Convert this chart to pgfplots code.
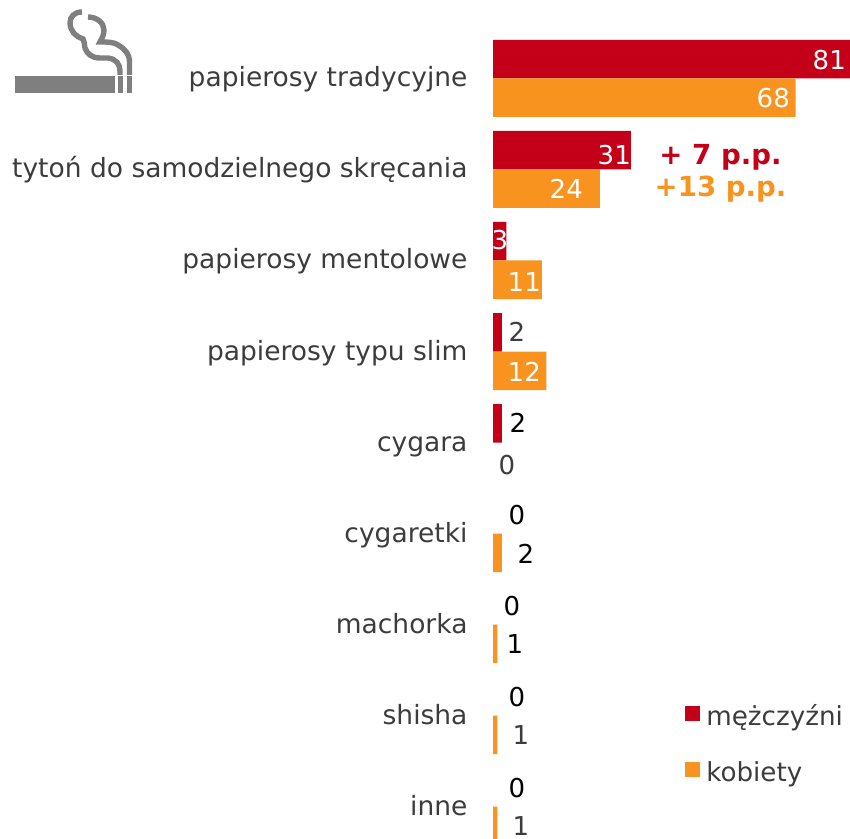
\documentclass[border=0pt]{standalone}
\usepackage{pgfplots}
\pgfplotsset{compat=1.18}
\usepackage{fontspec}
\setmainfont{DejaVu Sans}
\definecolor{cred}{HTML}{C40018}
\definecolor{corange}{HTML}{F7931E}
\definecolor{ctxt}{HTML}{3C3C3C}
\definecolor{cicon}{HTML}{7F7F7F}
\newcommand{\lab}[4][white]{\node[text=#1,font=\fontsize{26}{26}\selectfont,inner sep=0pt,anchor=center] at (#2pt,838pt-#3pt) {#4};}
\newcommand{\labr}[4][white]{\node[text=#1,font=\fontsize{26}{26}\selectfont,inner sep=0pt,anchor=east] at (#2pt,838pt-#3pt) {#4};}
\begin{document}
\begin{tikzpicture}[x=1pt,y=1pt]
\useasboundingbox (0,0) rectangle (850,838);
\begin{axis}[
  at={(493pt,0pt)},anchor=south west,
  scale only axis,width=357pt,height=838pt,
  xmin=0,xmax=80.22,
  y dir=reverse,
  ymin=-0.8626,ymax=8.3462,
  axis line style={draw=none},
  tick style={draw=none},
  xtick=\empty,
  ytick={0,1,2,3,4,5,6,7,8},
  yticklabels={papierosy tradycyjne,tytoń do samodzielnego skręcania,papierosy mentolowe,papierosy typu slim,cygara,cygaretki,machorka,shisha,inne},
  yticklabel style={font=\fontsize{26.5}{26.5}\selectfont,text=ctxt,anchor=east,xshift=-22pt,yshift=-2pt,text height=19pt,text depth=6pt},
  legend style={draw=none,fill=none,at={(0.538,0.1614)},anchor=north west,
    font=\fontsize{26.2}{26.2}\selectfont,text=ctxt,row sep=30pt,inner sep=0pt,
    cells={anchor=west}},
  legend image code/.code={\fill[#1] (0pt,-4.5pt) rectangle (15pt,10.5pt);\path (19pt,0pt);},
  legend cell align=left,
]
\addplot[xbar,bar width=38.5pt,bar shift=19.25pt,fill=cred,draw=none] coordinates {(81,0) (31,1) (3,2) (2,3) (2,4)};
\addlegendentry{mężczyźni}
\addplot[xbar,bar width=38.5pt,bar shift=-19.25pt,fill=corange,draw=none] coordinates {(68,0) (24,1) (11,2) (12,3) (2,5) (1,6) (1,7) (1,8)};
\addlegendentry{kobiety}
\end{axis}
% value labels
\labr{846}{60}{81}
\labr{790}{98}{68}
\labr{631}{155}{31}
\labr{583}{189}{24}
\lab{500}{240}{3}
\labr{541}{282}{11}
\lab[ctxt]{517}{332}{2}
\labr{541}{372}{12}
\lab[black]{518}{423}{2}
\lab[ctxt]{507}{465}{0}
\lab[black]{517}{515}{0}
\lab[black]{526}{554}{2}
\lab[black]{512}{606}{0}
\lab[black]{515}{644}{1}
\lab[black]{517}{697}{0}
\lab[ctxt]{521}{735}{1}
\lab[black]{517}{788}{0}
\lab[ctxt]{521}{826}{1}
% annotations
\node[text=cred,font=\fontsize{27.6}{27.6}\selectfont\bfseries,inner sep=0pt] at (720.5pt,681pt) {+ 7 p.p.};
\node[text=corange,font=\fontsize{27.6}{27.6}\selectfont\bfseries,inner sep=0pt] at (720.5pt,649pt) {+13 p.p.};
% icon
\fill[cicon] (15,745) rectangle (115,762);
\fill[cicon] (118,745) rectangle (122.5,762);
\fill[cicon] (127,745) rectangle (132,762);
\draw[cicon,line width=5.4pt] (82,826) .. controls (74,826) and (70,821) .. (70,815) .. controls (70,807) and (76,801) .. (83,799) .. controls (85,796) and (84,794) .. (85,790) .. controls (87,784) and (92,780) .. (100,780) -- (108,780) .. controls (116,779) and (120,774) .. (120,767) -- (120,763);
\draw[cicon,line width=5.4pt] (88,821) .. controls (97,821) and (104,815) .. (104,808) .. controls (104,803) and (102,800) .. (100,796) .. controls (108,796) and (114,796) .. (118,793) .. controls (125,789) and (129.5,784) .. (129.5,776) -- (129.5,763);
\end{tikzpicture}
\end{document}
